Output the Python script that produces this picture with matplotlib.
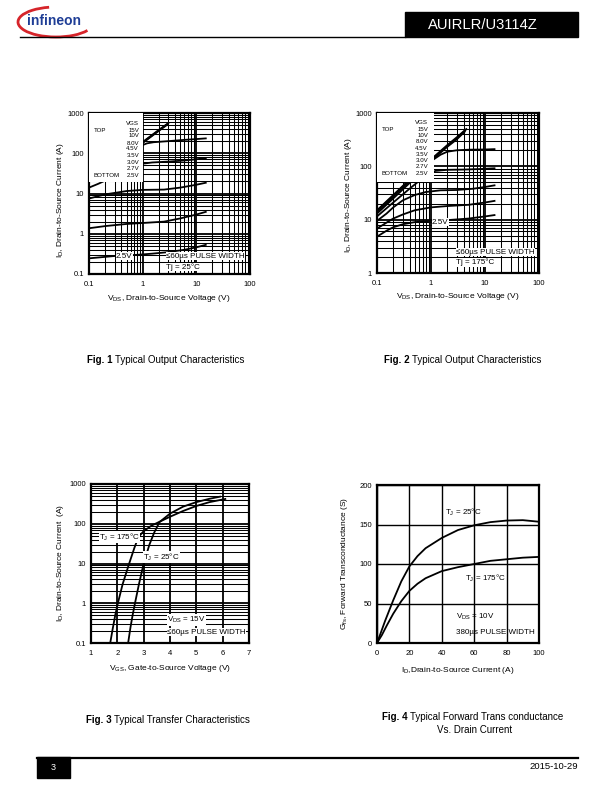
import numpy as np
import matplotlib
matplotlib.use('Agg')
import matplotlib.pyplot as plt
from matplotlib.patches import Rectangle, Arc
from matplotlib.ticker import LogLocator, NullFormatter

plt.rcParams['font.family'] = ['Liberation Sans', 'DejaVu Sans']
plt.rcParams['mathtext.fontset'] = 'custom'
plt.rcParams['mathtext.rm'] = 'Liberation Sans'
plt.rcParams['mathtext.it'] = 'Liberation Sans:italic'
plt.rcParams['mathtext.bf'] = 'Liberation Sans:bold'

# ---------------------------------------------------------------- data
vgs_labels = ['15V', '10V', '8.0V', '4.5V', '3.5V', '3.0V', '2.7V', '2.5V']

# Fig. 1  output characteristics, Tj = 25 C   (VDS [V] -> ID [A])
f1_15v_vds = [0.12, 0.3, 1.0, 2.0, 3.0]
f1_15v_id = [23, 57, 190, 380, 560]
f1_10v_vds = [0.12, 0.3, 1.0, 2.0, 2.9]
f1_10v_id = [22.5, 55, 185, 370, 530]
f1_8v_vds = [0.12, 0.3, 1.0, 2.0, 2.8]
f1_8v_id = [22, 54, 180, 360, 500]
f1_4v5_vds = [0.12, 0.3, 0.6, 1.0, 1.2, 1.6, 3.0, 6.0, 10.0, 15.0]
f1_4v5_id = [22, 55, 105, 160, 176, 188, 200, 215, 225, 234]
f1_3v5_vds = [0.1, 0.15, 0.3, 0.6, 1.0, 1.5, 3.0, 6.0, 10.0, 15.0]
f1_3v5_id = [14, 17.5, 27, 42, 55, 59, 62, 66, 71, 75]
f1_3v0_vds = [0.1, 0.2, 0.5, 1.0, 2.5, 5.0, 10.0, 15.0]
f1_3v0_id = [7.5, 9.5, 11.5, 12.3, 12.5, 14, 16.5, 18.5]
f1_2v7_vds = [0.1, 0.2, 0.5, 1.0, 2.5, 5.0, 10.0, 15.0]
f1_2v7_id = [1.37, 1.55, 1.75, 1.85, 2.0, 2.4, 3.0, 3.5]
f1_2v5_vds = [0.1, 0.3, 0.8, 1.5, 3.0, 6.0, 10.0, 15.0]
f1_2v5_id = [0.245, 0.28, 0.30, 0.32, 0.35, 0.40, 0.46, 0.53]

# Fig. 2  output characteristics, Tj = 175 C
f2_15v_vds = [0.1, 0.2, 0.5, 1.0, 2.0, 3.0, 4.5]
f2_15v_id = [15, 29, 70, 135, 250, 350, 500]
f2_10v_vds = [0.1, 0.2, 0.5, 1.0, 2.0, 3.0, 4.3]
f2_10v_id = [14.5, 28, 68, 130, 240, 335, 470]
f2_8v_vds = [0.1, 0.2, 0.5, 1.0, 2.0, 3.0, 4.2]
f2_8v_id = [14, 27, 66, 127, 232, 320, 445]
f2_4v5_vds = [0.1, 0.2, 0.5, 1.0, 1.5, 2.0, 3.0, 5.0, 10.0, 15.0]
f2_4v5_id = [13, 25, 60, 125, 165, 188, 200, 205, 207, 210]
f2_3v5_vds = [0.1, 0.2, 0.4, 0.7, 1.2, 2.0, 4.0, 8.0, 15.0]
f2_3v5_id = [11.5, 21, 38, 60, 82, 86, 87, 89, 92]
f2_3v0_vds = [0.1, 0.15, 0.2, 0.3, 0.5, 0.8, 1.5, 3.0, 6.0, 10.0, 15.0]
f2_3v0_id = [9.5, 13, 17, 23, 29, 33, 35.5, 36, 38, 41, 44]
f2_2v7_vds = [0.1, 0.15, 0.2, 0.3, 0.5, 1.0, 2.0, 5.0, 10.0, 15.0]
f2_2v7_id = [6.8, 8.8, 10.5, 12.5, 15, 17, 18, 19, 21, 22.5]
f2_2v5_vds = [0.1, 0.15, 0.2, 0.3, 0.5, 1.0, 2.0, 5.0, 10.0, 15.0]
f2_2v5_id = [4.8, 6.2, 7.2, 8.2, 9.0, 9.5, 9.8, 10.5, 11.5, 12.2]

# Fig. 3  transfer characteristics (VGS [V] -> ID [A])
f3_25c_vgs = [2.41, 2.5, 2.58, 2.67, 2.82, 3.0, 3.22, 3.4, 3.6, 4.0, 4.5, 5.0, 5.5, 5.9]
f3_25c_id = [0.1, 0.25, 0.5, 1, 3, 10, 30, 60, 110, 180, 270, 350, 425, 480]
f3_175c_vgs = [1.73, 1.82, 1.92, 2.02, 2.2, 2.45, 2.65, 2.8, 3.0, 3.3, 3.6, 4.0, 4.5, 5.0, 5.5, 6.1]
f3_175c_id = [0.1, 0.22, 0.5, 1, 3, 10, 25, 46, 65, 90, 112, 150, 210, 280, 350, 420]

# Fig. 4  forward transconductance (ID [A] -> Gfs [S])
f4_25c_id = [0, 2, 5, 10, 15, 20, 25, 30, 40, 50, 60, 70, 80, 90, 100]
f4_25c_gfs = [0, 11, 28, 54, 78, 97, 110, 120, 133, 143, 149, 153, 155, 155.5, 153.5]
f4_175c_id = [0, 3, 6, 10, 15, 20, 25, 30, 40, 50, 60, 70, 80, 90, 100]
f4_175c_gfs = [0, 10, 22, 37, 53, 66, 75, 82, 91, 96, 100, 104, 106, 108, 109]

# ticks
vds_ticks = [0.1, 1, 10, 100]
vds_ticklabels = ['0.1', '1', '10', '100']
f1_id_ticks = [0.1, 1, 10, 100, 1000]
f1_id_ticklabels = ['0.1', '1', '10', '100', '1000']
f2_id_ticks = [1, 10, 100, 1000]
f2_id_ticklabels = ['1', '10', '100', '1000']
f3_vgs_ticks = [1, 2, 3, 4, 5, 6, 7]
f3_id_ticks = [0.1, 1, 10, 100, 1000]
f3_id_ticklabels = ['0.1', '1', '10', '100', '1000']
f4_id_ticks = [0, 20, 40, 60, 80, 100]
f4_gfs_ticks = [0, 50, 100, 150, 200]

DEG = '\u00b0'
LE = '\u2264'
MU = '\u00b5'

# ---------------------------------------------------------------- layout
W, H = 612, 792
fig = plt.figure(figsize=(W / 100, H / 100), dpi=100)
page = fig.add_axes([0, 0, 1, 1], zorder=-1)
page.set_xlim(0, W)
page.set_ylim(H, 0)
page.axis('off')
P = page.transData

TICK_FS = 5.5
LAB_FS = 6.0
IN_FS = 5.8
CAP_FS = 7.0
LW_CURVE = 1.3


def px_axes(x0, y0, x1, y1):
    return fig.add_axes([x0 / W, 1 - y1 / H, (x1 - x0) / W, (y1 - y0) / H])


def style_axes(ax):
    for s in ax.spines.values():
        s.set_linewidth(1.6)
        s.set_color('black')
    ax.tick_params(which='both', length=0, labelsize=TICK_FS)
    ax.tick_params(axis='x', pad=5.0)
    ax.tick_params(axis='y', pad=3.5)
    ax.set_axisbelow(True)


def log_grid(ax, xlog=True):
    if xlog:
        ax.xaxis.set_minor_locator(LogLocator(base=10, subs=np.arange(2, 10)))
        ax.xaxis.set_minor_formatter(NullFormatter())
    ax.yaxis.set_minor_locator(LogLocator(base=10, subs=np.arange(2, 10)))
    ax.yaxis.set_minor_formatter(NullFormatter())
    ax.grid(which='major', color='black', lw=1.3)
    ax.grid(which='minor', color='black', lw=0.75)


def text_px(x, y, s, **kw):
    return page.text(x, y, s, **kw)


WB = dict(facecolor='white', edgecolor='none', pad=0.3)


def in_text(ax, x, y, s, box=True):
    kw = dict(transform=P, fontsize=IN_FS, ha='left', va='center', zorder=6)
    if box:
        kw['bbox'] = WB
    ax.text(x, y, s, **kw)


def legend_box(ax, x0, y0, x1, y1, xtop, xval, yvgs, rows):
    ax.add_patch(Rectangle((x0, y0), x1 - x0, y1 - y0, transform=P, facecolor='white',
                           edgecolor='none', zorder=5, clip_on=False))
    fs = 4.4
    ax.text(xval, yvgs, 'VGS', transform=P, fontsize=fs, ha='right', va='center', zorder=6)
    ax.text(xtop, rows[0], 'TOP', transform=P, fontsize=fs, ha='left', va='center', zorder=6)
    ax.text(xtop, rows[-1], 'BOTTOM', transform=P, fontsize=fs, ha='left', va='center', zorder=6)
    for lab, yy in zip(vgs_labels, rows):
        ax.text(xval, yy, lab, transform=P, fontsize=fs, ha='right', va='center', zorder=6)


def caption(x, y, bold, rest, fs=CAP_FS):
    t = text_px(x, y, bold, fontsize=fs, fontweight='bold', ha='left', va='center')
    r = fig.canvas.get_renderer()
    bb = t.get_window_extent(renderer=r)
    text_px(bb.x1 + 2.5, y, rest, fontsize=fs, ha='left', va='center')


# ---------------------------------------------------------------- header / footer
page.add_patch(Rectangle((405, 12), 173, 25, color='black'))
text_px(483, 25, 'AUIRLR/U3114Z', color='white', fontsize=10.6, ha='center', va='center')
page.plot([20, 405], [37, 37], color='black', lw=1.0)
page.add_patch(Arc((56, 22), 76, 30, theta1=15, theta2=245, color='#d6242a', lw=2.0))
text_px(27, 21, 'infineon', color='#1f3e96', fontsize=10, fontweight='bold', ha='left', va='center')

page.plot([37, 578], [757.5, 757.5], color='black', lw=1.6)
page.add_patch(Rectangle((37, 757), 33, 21, color='black'))
text_px(53.5, 767.5, '3', color='white', fontsize=6.5, ha='center', va='center')
text_px(578, 766.5, '2015-10-29', fontsize=6.8, ha='right', va='center')

# ---------------------------------------------------------------- Fig. 1
ax1 = px_axes(89, 113, 250, 274)
ax1.set_xscale('log')
ax1.set_yscale('log')
ax1.set_xlim(0.1, 100)
ax1.set_ylim(0.1, 1000)
style_axes(ax1)
log_grid(ax1)
ax1.set_xticks(vds_ticks)
ax1.set_xticklabels(vds_ticklabels)
ax1.set_yticks(f1_id_ticks)
ax1.set_yticklabels(f1_id_ticklabels)
for xs, ys in [(f1_15v_vds, f1_15v_id), (f1_10v_vds, f1_10v_id), (f1_8v_vds, f1_8v_id),
               (f1_4v5_vds, f1_4v5_id), (f1_3v5_vds, f1_3v5_id), (f1_3v0_vds, f1_3v0_id),
               (f1_2v7_vds, f1_2v7_id), (f1_2v5_vds, f1_2v5_id)]:
    ax1.plot(xs, ys, color='black', lw=LW_CURVE, zorder=3)
legend_box(ax1, 89, 113, 143, 182, 94, 139,
           123.3, [130, 135.7, 143.3, 149, 155.7, 162.7, 168.3, 175.7])
in_text(ax1, 116, 256, '2.5V')
in_text(ax1, 166, 256, LE + '60' + MU + 's PULSE WIDTH')
in_text(ax1, 166, 267, 'Tj = 25' + DEG + 'C')
text_px(61, 200, r'I$_\mathregular{D}$, Drain-to-Source Current (A)', fontsize=LAB_FS,
        rotation=90, ha='center', va='center')
text_px(169, 299, r'V$_\mathregular{DS}$, Drain-to-Source Voltage (V)', fontsize=LAB_FS,
        ha='center', va='center')

# ---------------------------------------------------------------- Fig. 2
ax2 = px_axes(377, 113, 539, 273)
ax2.set_xscale('log')
ax2.set_yscale('log')
ax2.set_xlim(0.1, 100)
ax2.set_ylim(1, 1000)
style_axes(ax2)
log_grid(ax2)
ax2.set_xticks(vds_ticks)
ax2.set_xticklabels(vds_ticklabels)
ax2.set_yticks(f2_id_ticks)
ax2.set_yticklabels(f2_id_ticklabels)
for xs, ys in [(f2_15v_vds, f2_15v_id), (f2_10v_vds, f2_10v_id), (f2_8v_vds, f2_8v_id),
               (f2_4v5_vds, f2_4v5_id), (f2_3v5_vds, f2_3v5_id), (f2_3v0_vds, f2_3v0_id),
               (f2_2v7_vds, f2_2v7_id), (f2_2v5_vds, f2_2v5_id)]:
    ax2.plot(xs, ys, color='black', lw=LW_CURVE, zorder=3)
legend_box(ax2, 377, 113, 434, 182, 382, 428,
           123, [129.3, 135.7, 141.7, 149, 154.3, 161, 166.7, 173.3])
in_text(ax2, 432, 222, '2.5V')
in_text(ax2, 456, 252, LE + '60' + MU + 's PULSE WIDTH')
in_text(ax2, 456, 262.5, 'Tj = 175' + DEG + 'C')
text_px(349, 195, r'I$_\mathregular{D}$, Drain-to-Source Current (A)', fontsize=LAB_FS,
        rotation=90, ha='center', va='center')
text_px(458, 297, r'V$_\mathregular{DS}$, Drain-to-Source Voltage (V)', fontsize=LAB_FS,
        ha='center', va='center')

# ---------------------------------------------------------------- Fig. 3
ax3 = px_axes(91, 484, 249, 643)
ax3.set_yscale('log')
ax3.set_xlim(1, 7)
ax3.set_ylim(0.1, 1000)
style_axes(ax3)
log_grid(ax3, xlog=False)
ax3.set_xticks(f3_vgs_ticks)
ax3.set_xticklabels([str(v) for v in f3_vgs_ticks])
ax3.set_yticks(f3_id_ticks)
ax3.set_yticklabels(f3_id_ticklabels)
ax3.plot(f3_175c_vgs, f3_175c_id, color='black', lw=LW_CURVE, zorder=3)
ax3.plot(f3_25c_vgs, f3_25c_id, color='black', lw=LW_CURVE, zorder=3)
in_text(ax3, 99, 537, r'T$_\mathregular{J}$ = 175' + DEG + 'C')
in_text(ax3, 143, 557, r'T$_\mathregular{J}$ = 25' + DEG + 'C')
in_text(ax3, 167, 620, r'V$_\mathregular{DS}$ = 15V')
in_text(ax3, 167, 632, LE + '60' + MU + 's PULSE WIDTH')
text_px(61, 563, r'I$_\mathregular{D}$, Drain-to-Source Current  (A)', fontsize=LAB_FS,
        rotation=90, ha='center', va='center')
text_px(170, 669, r'V$_\mathregular{GS}$, Gate-to-Source Voltage (V)', fontsize=LAB_FS,
        ha='center', va='center')

# ---------------------------------------------------------------- Fig. 4
ax4 = px_axes(377, 485, 539, 643)
ax4.set_xlim(0, 100)
ax4.set_ylim(0, 200)
style_axes(ax4)
ax4.set_xticks(f4_id_ticks)
ax4.set_yticks(f4_gfs_ticks)
ax4.grid(which='major', color='black', lw=1.0)
ax4.plot(f4_25c_id, f4_25c_gfs, color='black', lw=LW_CURVE, zorder=3)
ax4.plot(f4_175c_id, f4_175c_gfs, color='black', lw=LW_CURVE, zorder=3)
in_text(ax4, 445, 512, r'T$_\mathregular{J}$ = 25' + DEG + 'C', box=False)
in_text(ax4, 465, 578, r'T$_\mathregular{J}$ = 175' + DEG + 'C', box=False)
in_text(ax4, 456, 617, r'V$_\mathregular{DS}$ = 10V', box=False)
in_text(ax4, 456, 632, '380' + MU + 's PULSE WIDTH', box=False)
text_px(344, 564, r'G$_\mathregular{fs}$, Forward Transconductance (S)', fontsize=LAB_FS,
        rotation=90, ha='center', va='center')
text_px(458, 671, r'I$_\mathregular{D}$,Drain-to-Source Current (A)', fontsize=LAB_FS,
        ha='center', va='center')

# ---------------------------------------------------------------- captions
caption(87, 360, 'Fig. 1', 'Typical Output Characteristics')
caption(384, 360, 'Fig. 2', 'Typical Output Characteristics')
caption(86, 720, 'Fig. 3', 'Typical Transfer Characteristics')
caption(382, 717, 'Fig. 4', 'Typical Forward Trans conductance')
text_px(475, 730, 'Vs. Drain Current', fontsize=CAP_FS, ha='center', va='center')

fig.savefig('out.png', dpi=100)
